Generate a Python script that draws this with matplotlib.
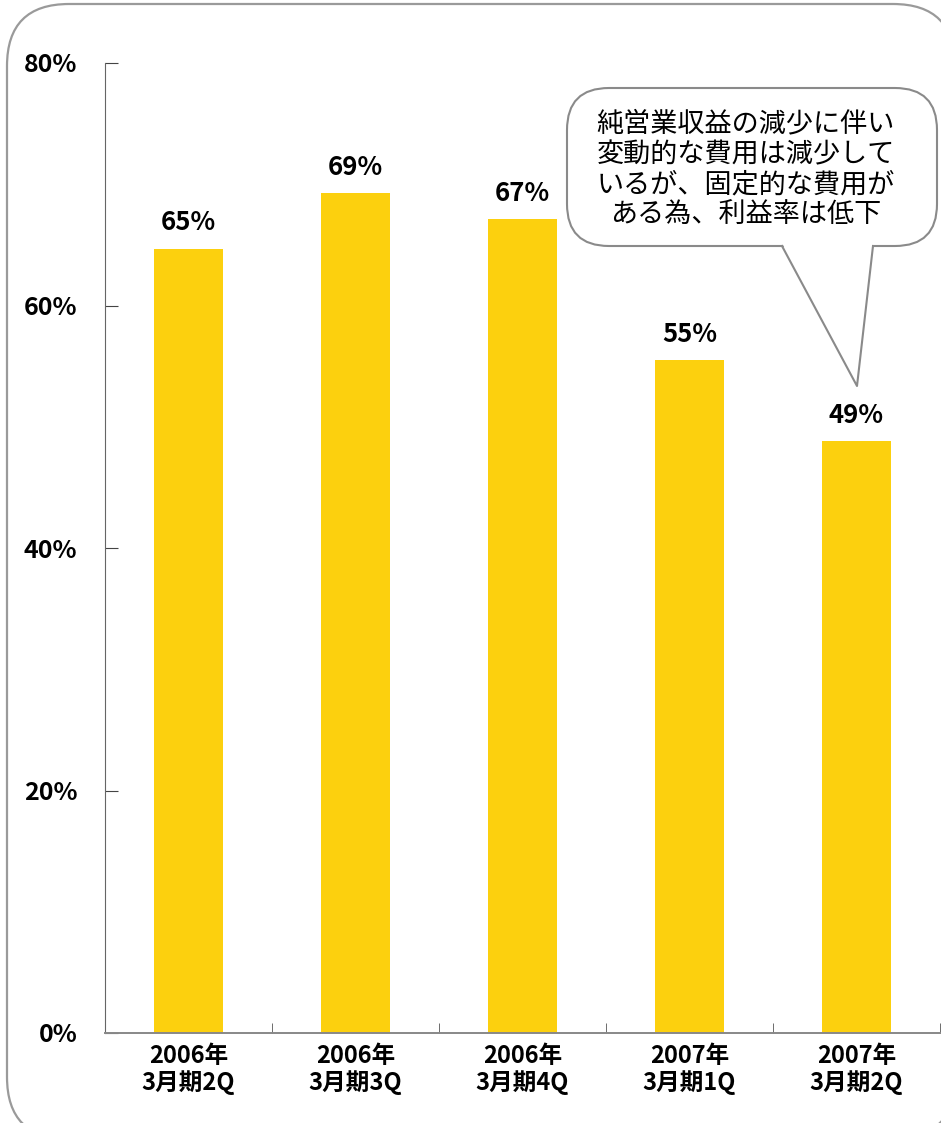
import numpy as np
import matplotlib
matplotlib.use('Agg')
import matplotlib.pyplot as plt
from matplotlib.patches import FancyBboxPatch, Polygon

plt.rcParams['font.family'] = ['Noto Sans CJK JP', 'DejaVu Sans']

categories = ['2006年\n3月期2Q', '2006年\n3月期3Q', '2006年\n3月期4Q',
              '2007年\n3月期1Q', '2007年\n3月期2Q']
values = [64.7, 69.3, 67.1, 55.5, 48.8]
labels = ['65%', '69%', '67%', '55%', '49%']
yticks = [0, 20, 40, 60, 80]
note = '純営業収益の減少に伴い\n変動的な費用は減少して\nいるが、固定的な費用が\nある為、利益率は低下'

W, H = 941, 1123
fig = plt.figure(figsize=(W / 100, H / 100), dpi=100)

# overlay in pixel coords for the frame and the callout
ov = fig.add_axes([0, 0, 1, 1])
ov.set_xlim(0, W)
ov.set_ylim(H, 0)
ov.axis('off')
frame = FancyBboxPatch((7, 4), 948, 1135, boxstyle='round,pad=0,rounding_size=62',
                       fc='white', ec='#9a9a9a', lw=1.6)
ov.add_patch(frame)

ax = fig.add_axes([105 / W, (H - 1033) / H, 835 / W, 970 / H])
ax.patch.set_alpha(0)
x = np.arange(len(values))
ax.bar(x, values, width=0.41, color='#FCD00E', zorder=2)
for xi, v, lab in zip(x, values, labels):
    ax.text(xi, v + 1.0, lab, ha='center', va='bottom', fontsize=18.5, fontweight='bold')

ax.set_xlim(-0.5, len(values) - 0.5)
ax.set_ylim(0, 80)
ax.set_yticks(yticks)
ax.set_yticklabels([f'{t}%' for t in yticks], fontsize=18, fontweight='bold')
ax.set_xticks(x)
ax.set_xticklabels(categories, fontsize=17, fontweight='bold', linespacing=1.1)
ax.set_xticks(np.arange(len(values) + 1) - 0.5, minor=True)
ax.tick_params(axis='x', which='major', length=0, pad=8)
ax.tick_params(axis='x', which='minor', direction='in', length=7, color='#555555')
ax.tick_params(axis='y', direction='in', length=9, pad=20, color='#444444')
for s in ['top', 'right']:
    ax.spines[s].set_visible(False)
ax.spines['left'].set_color('#666666')
ax.spines['bottom'].set_color('#888888')
ax.spines['bottom'].set_linewidth(1.4)

# callout bubble
ov2 = fig.add_axes([0, 0, 1, 1])
ov2.set_xlim(0, W)
ov2.set_ylim(H, 0)
ov2.axis('off')
box = FancyBboxPatch((567, 88), 370, 158, boxstyle='round,pad=0,rounding_size=42',
                     fc='white', ec='#8a8a8a', lw=1.5, zorder=3)
ov2.add_patch(box)
ptr = Polygon([(782, 243), (857, 386), (873, 243)], closed=True, fc='white', ec='none', zorder=4)
ov2.add_patch(ptr)
ov2.plot([782, 857, 873], [246, 386, 246], color='#8a8a8a', lw=1.5, zorder=5)
ov2.text(746, 170, note, ha='center', va='center', fontsize=19.5, linespacing=1.17, zorder=6)

fig.savefig('out.png', dpi=100)
